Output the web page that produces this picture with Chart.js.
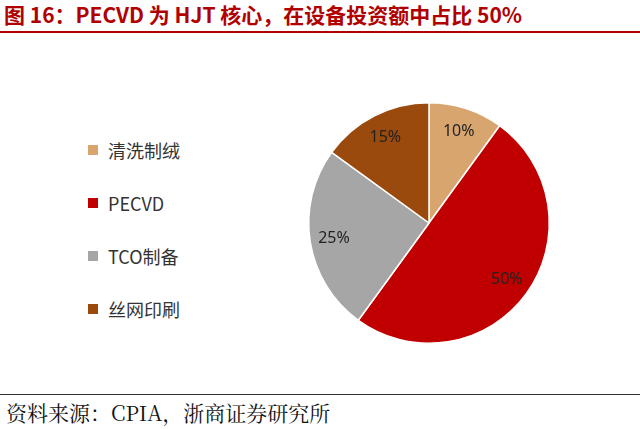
<!DOCTYPE html>
<html><head><meta charset="utf-8">
<script src="https://cdn.jsdelivr.net/npm/chart.js@4"></script>
<style>
body{margin:0;width:640px;height:429px;background:#fff;position:relative;overflow:hidden;font-family:"Noto Sans CJK SC",sans-serif}
#title{position:absolute;left:4px;top:-1px;font-size:21px;font-weight:bold;color:#b00000;white-space:nowrap}
#rule1{position:absolute;left:0;top:31px;width:640px;height:2px;background:#b00000}
#rule2{position:absolute;left:0;top:394px;width:640px;height:1px;background:#333}
#src{position:absolute;left:6px;top:397px;font-size:21px;color:#111;font-family:"Noto Serif CJK SC","Noto Sans CJK SC",serif;white-space:nowrap}
#box{position:absolute;left:304px;top:98px;width:250px;height:250px}
.lg{position:absolute;left:88px;font-size:18px;color:#333;display:flex;align-items:center}
.lg i{display:inline-block;width:10px;height:10px;margin-right:10px}
</style></head><body>
<div id="title">图 16：PECVD 为 HJT 核心，在设备投资额中占比 50%</div>
<div id="rule1"></div>
<div id="legend"></div>
<div id="box"><canvas id="c"></canvas></div>
<div id="rule2"></div>
<div id="src">资料来源：CPIA，浙商证券研究所</div>
<script>
const categories=['清洗制绒','PECVD','TCO制备','丝网印刷'];
const values=[10,50,25,15];
const colors=['#D8A56E','#C00000','#A6A6A6','#9A4A0C'];
const legendTops=[137,190,243,296];
const lg=document.getElementById('legend');
categories.forEach((c,i)=>{const d=document.createElement('div');d.className='lg';d.style.top=legendTops[i]+'px';d.innerHTML='<i style="background:'+colors[i]+'"></i>'+c;lg.appendChild(d);});
const pctLabels={id:'pctLabels',afterDatasetsDraw(chart){const ctx=chart.ctx;ctx.save();ctx.font='16px "Noto Sans", sans-serif';ctx.fillStyle='#222';ctx.textAlign='center';ctx.textBaseline='middle';
chart.getDatasetMeta(0).data.forEach((a,i)=>{const m=(a.startAngle+a.endAngle)/2,r=a.outerRadius*0.8;ctx.fillText(values[i]+'%',a.x+Math.cos(m)*r,a.y+Math.sin(m)*r);});ctx.restore();}};
new Chart(document.getElementById('c'),{type:'pie',data:{labels:categories,datasets:[{data:values,backgroundColor:colors,borderColor:'#fff',borderWidth:1.5}]},
options:{responsive:true,maintainAspectRatio:false,animation:false,layout:{padding:4},plugins:{legend:{display:false},tooltip:{enabled:false}}},plugins:[pctLabels]});
</script></body></html>
